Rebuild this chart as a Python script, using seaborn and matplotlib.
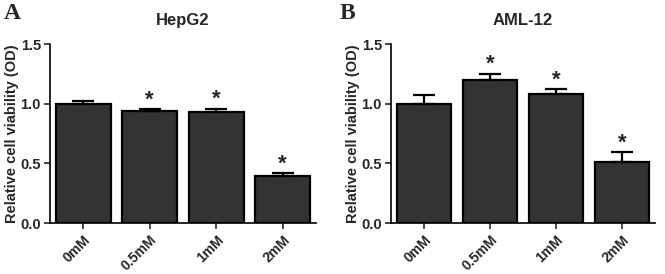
import pandas as pd
import matplotlib
matplotlib.use("Agg")
import matplotlib.pyplot as plt
import seaborn as sns

doses = ["0mM", "0.5mM", "1mM", "2mM"]

hepg2_mean = [1.00, 0.94, 0.935, 0.395]
hepg2_err = [0.025, 0.012, 0.022, 0.022]
hepg2_sig = [False, True, True, True]

aml12_mean = [1.00, 1.20, 1.08, 0.515]
aml12_err = [0.07, 0.05, 0.04, 0.08]
aml12_sig = [False, True, True, True]

sns.set_theme(style="ticks")
plt.rcParams["font.family"] = ["Liberation Sans", "DejaVu Sans"]
plt.rcParams["font.weight"] = "bold"

fig = plt.figure(figsize=(6.65, 2.74), dpi=100)
ax_a = fig.add_axes([0.0752, 0.186, 0.400, 0.653])
ax_b = fig.add_axes([0.588, 0.186, 0.397, 0.653])


def panel(ax, title, mean, err, sig):
    frame = pd.DataFrame({"dose": doses, "od": mean})
    sns.barplot(x="dose", y="od", data=frame, ax=ax, color="#333333",
                saturation=1, width=0.82, edgecolor="black", linewidth=1.6,
                errorbar=None)
    # upward-only error bars, GraphPad style
    ax.errorbar(range(len(doses)), mean, yerr=[[0] * len(err), err],
                fmt="none", ecolor="black", elinewidth=1.6, capsize=8,
                capthick=1.6, zorder=3)
    for i, (m, e, s) in enumerate(zip(mean, err, sig)):
        if s:
            ax.text(i, m + e - 0.01, "*", ha="center", va="bottom",
                    fontsize=16, fontweight="bold")
    ax.set_xlim(-0.5, 3.5)
    ax.set_ylim(0, 1.5)
    ax.set_yticks([0, 0.5, 1.0, 1.5])
    ax.set_yticklabels(["0.0", "0.5", "1.0", "1.5"])
    ax.set_xlabel("")
    ax.set_ylabel("Relative cell viability (OD)", fontsize=10.5,
                  fontweight="bold", labelpad=1)
    ax.set_title(title, fontsize=12, fontweight="bold", pad=14)
    ax.tick_params(axis="both", direction="out", length=4.5, width=1.2,
                   labelsize=10.5, pad=2)
    ax.tick_params(axis="x", pad=2.5, labelsize=10)
    for lab in ax.get_xticklabels():
        lab.set_rotation(45)
        lab.set_ha("right")
        lab.set_rotation_mode("anchor")
        lab.set_fontweight("bold")
    for lab in ax.get_yticklabels():
        lab.set_fontweight("bold")
    sns.despine(ax=ax)
    for sp in ["left", "bottom"]:
        ax.spines[sp].set_linewidth(1.2)
        ax.spines[sp].set_color("black")


panel(ax_a, "HepG2", hepg2_mean, hepg2_err, hepg2_sig)
panel(ax_b, "AML-12", aml12_mean, aml12_err, aml12_sig)

fig.text(0.006, 0.99, "A", family="Liberation Serif", fontsize=17,
         fontweight="bold", va="top")
fig.text(0.51, 0.99, "B", family="Liberation Serif", fontsize=17,
         fontweight="bold", va="top")

fig.savefig("out.png", dpi=100)
